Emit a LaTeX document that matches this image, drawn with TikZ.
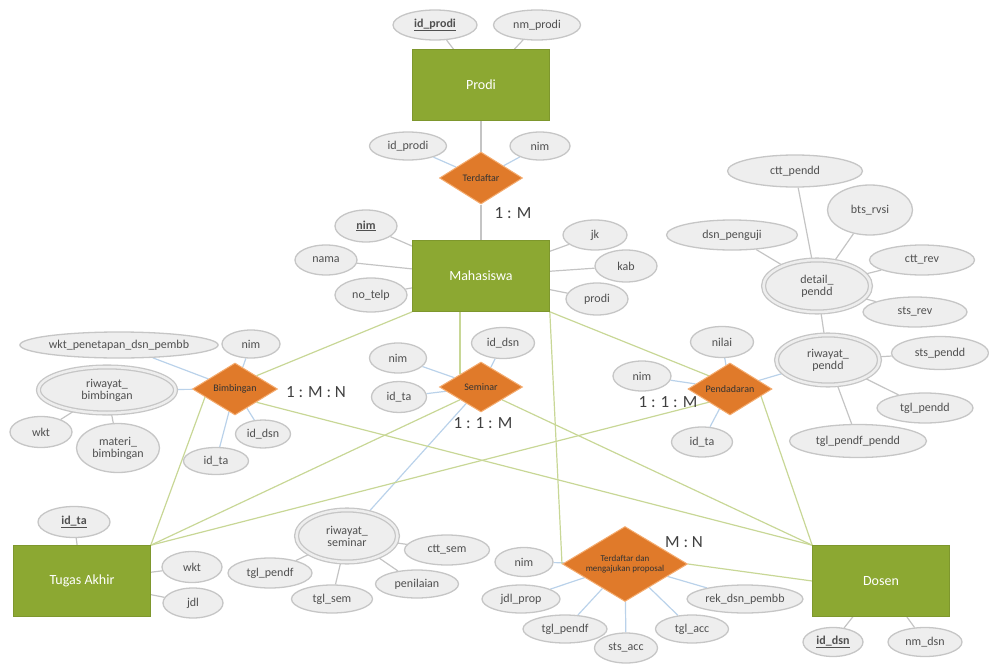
\documentclass[tikz,border=0pt]{standalone}
\usepackage{fontspec}
\setmainfont{Carlito}
\usepackage{tikz}
\usetikzlibrary{shapes.geometric,backgrounds}
\definecolor{ErEntity}{RGB}{140,168,50}
\definecolor{ErRel}{RGB}{224,122,42}
\definecolor{ErRelLine}{RGB}{244,172,112}
\definecolor{ErAttrFill}{RGB}{238,238,238}
\definecolor{ErAttrLine}{RGB}{198,198,198}
\definecolor{ErLink}{RGB}{200,215,150}
\definecolor{ErAttrLink}{RGB}{196,196,196}
\definecolor{ErRelLink}{RGB}{186,210,234}
\definecolor{ErText}{RGB}{80,80,80}
\newcommand{\erkey}[1]{\textbf{\underline{#1}}}

\begin{document}
\begin{tikzpicture}[x=1pt,y=-1pt,
ent/.style={rectangle,fill=ErEntity,draw=ErEntity!90!black,line width=0.6pt,minimum width=137,minimum height=71,text=white,font=\fontsize{14}{16}\selectfont},
rel/.style n args={2}{diamond,fill=ErRel,draw=ErRelLine,line width=1pt,minimum width=#1,minimum height=#2,inner sep=0pt,aspect=1.6,align=center,text=black!80,font=\fontsize{10}{11}\selectfont},
attr/.style n args={2}{ellipse,fill=ErAttrFill,draw=ErAttrLine,line width=1.3pt,minimum width=#1,minimum height=#2,inner sep=0pt,align=center,text=ErText,font=\fontsize{12}{12}\selectfont},
multi/.style n args={2}{attr={#1}{#2},double=ErAttrFill,double distance=2.5pt},
link/.style={ErLink,line width=1.2pt},
alink/.style={ErAttrLink,line width=1.2pt},
rlink/.style={ErRelLink,line width=1.2pt},
card/.style={font=\fontsize{17}{17}\selectfont,text=black!75}]
\useasboundingbox (0,0) rectangle (989,664);
% entities
\node[ent](prodi) at(481,85) {Prodi};
\node[ent](mhs) at(481,276) {Mahasiswa};
\node[ent](ta) at(82,581) {Tugas Akhir};
\node[ent](dosen) at(881,581) {Dosen};
% relationships
\node[rel={83}{52}](rdaftar) at(481,178) {Terdaftar};
\node[rel={85}{52}](rbimb) at(235,389) {Bimbingan};
\node[rel={83}{50}](rsem) at(481,387) {Seminar};
\node[rel={84}{52}](rpendd) at(730,389) {Pendadaran};
\node[rel={125}{75},font=\fontsize{9}{10}\selectfont](rprop) at(625,564) {Terdaftar dan\\mengajukan proposal};
% key attributes
\node[attr={84}{30}](oid) at(435,25) {\erkey{id\_prodi}};
\node[attr={62}{32}](mnim) at(366,226) {\erkey{nim}};
\node[attr={72}{31}](tid) at(74,522) {\erkey{id\_ta}};
\node[attr={60}{29}](dsid) at(833,642) {\erkey{id\_dsn}};
% multivalued attributes
\node[multi={137}{46}](briw) at(107,390) {riwayat\_\\bimbingan};
\node[multi={101}{52}](sriw) at(347,536) {riwayat\_\\seminar};
\node[multi={103}{50}](priw) at(828,360) {riwayat\_\\pendd};
\node[multi={107}{52}](pdet) at(817,286) {detail\_\\pendd};
% attributes
\foreach \n/\x/\y/\w/\h/\t in {%
onm/537/25/87/30/nm\_prodi,
rid/408/146/77/28/id\_prodi,
rnim/540/146/60/28/nim,
mnama/326/260/62/30/nama,
mtelp/371/295/72/34/no\_telp,
mjk/595/235/64/30/jk,
mkab/626/266/62/32/kab,
mprodi/597/299/62/32/prodi,
bwkt/119/345/188/26/wkt\_penetapan\_dsn\_pembb,
bnim/251/344/58/28/nim,
bwk/41/432/62/31/wkt,
bmat/118/448/83/49/materi\_\\bimbingan,
bdsn/263/434/55/28/id\_dsn,
bta/216/461/65/27/id\_ta,
snim/398/358/57/30/nim,
sta/399/397/55/31/id\_ta,
sdsn/503/343/63/31/id\_dsn,
stgl/270/573/84/30/tgl\_pendf,
ssem/332/599/81/28/tgl\_sem,
sctt/447/550/85/30/ctt\_sem,
snil/417/584/83/28/penilaian,
twkt/192/567/60/31/wkt,
tjdl/193/603/60/30/jdl,
pnil/722/342/63/31/nilai,
pnim/642/376/58/30/nim,
pta/702/442/61/30/id\_ta,
pctt/795/171/135/32/ctt\_pendd,
pbts/870/210/85/50/bts\_rvsi,
pdsn/732/235/131/30/dsn\_penguji,
prev/922/260/105/30/ctt\_rev,
psrev/915/312/104/30/sts\_rev,
psts/940/353/97/33/sts\_pendd,
ptgl/925/408/96/30/tgl\_pendd,
ptgf/858/441/137/33/tgl\_pendf\_pendd,
jnim/524/562/58/29/nim,
jjdl/521/599/78/28/jdl\_prop,
jtgf/565/629/84/28/tgl\_pendf,
jsts/626/648/63/30/sts\_acc,
jacc/692/629/73/28/tgl\_acc,
jrek/745/599/116/28/rek\_dsn\_pembb,
dsnm/925/642/74/29/nm\_dsn} {
   \node[attr={\w}{\h}](\n) at(\x,\y) {\t};
}
% cardinalities
\node[card](cdaftar) at(513,213) {1 : M};
\node[card](cbimb) at(316,392) {1 : M : N};
\node[card](csem) at(483,423) {1 : 1 : M};
\node[card](cpendd) at(668,402) {1 : 1 : M};
\node[card](cprop) at(684,542) {M : N};
% connectors
\begin{scope}[on background layer]
\foreach \a/\b in {oid/prodi,onm/prodi,mnim/mhs,mnama/mhs,mtelp/mhs,mjk/mhs,mkab/mhs,mprodi/mhs,%
tid/ta,twkt/ta,tjdl/ta,dsid/dosen,dsnm/dosen,bwk/briw,bmat/briw,stgl/sriw,ssem/sriw,sctt/sriw,snil/sriw,%
pdet/priw,psts/priw,ptgl/priw,ptgf/priw,pctt/pdet,pbts/pdet,pdsn/pdet,prev/pdet,psrev/pdet,prodi/rdaftar,rdaftar/mhs} {
   \draw[alink] (\a) -- (\b);
}
\foreach \a/\b in {rid/rdaftar,rnim/rdaftar,bwkt/rbimb,bnim/rbimb,briw/rbimb,bdsn/rbimb,bta/rbimb,%
snim/rsem,sta/rsem,sdsn/rsem,sriw/rsem,pnil/rpendd,pnim/rpendd,pta/rpendd,priw/rpendd,%
jnim/rprop,jjdl/rprop,jtgf/rprop,jsts/rprop,jacc/rprop,jrek/rprop} {
   \draw[rlink] (\a) -- (\b);
}
\draw[link] (mhs.south west) -- (rbimb.north east);
\draw[link] (mhs.south -| rsem.north west) -- (rsem.north west);
\draw[link] (mhs.south east) -- (rpendd.north west);
\draw[link] (mhs.south east) -- (rprop.west);
\draw[link] (rbimb.195) -- (ta.north east);
\draw[link] (rbimb.south east) -- (dosen.north west);
\draw[link] (rsem.south west) -- (ta.north east);
\draw[link] (rsem.south east) -- (dosen.north west);
\draw[link] (rpendd.south west) -- (ta.north east);
\draw[link] (rpendd.-13) -- (dosen.north west);
\draw[link] (rprop.east) -- (dosen.west);
\end{scope}
\end{tikzpicture}
\end{document}
